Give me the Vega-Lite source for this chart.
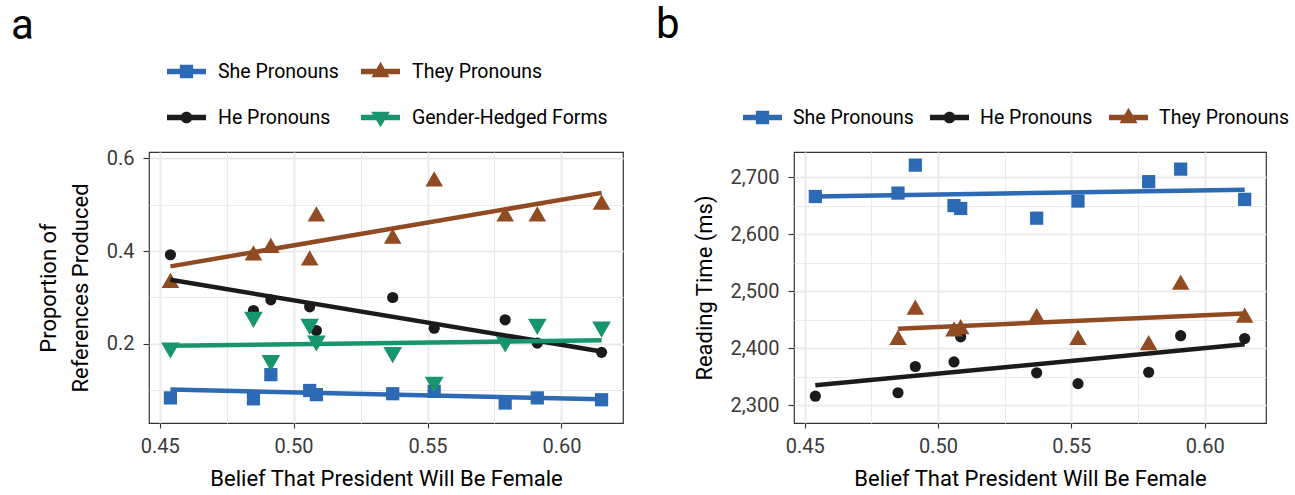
{
  "$schema": "https://vega.github.io/schema/vega-lite/v6.json",
  "background": "white",
  "padding": {"left": 10, "top": 3, "right": 5, "bottom": 5},
  "bounds": "flush",
  "spacing": 171,
  "resolve": {
    "scale": {"color": "independent", "shape": "independent"},
    "legend": {"color": "independent", "shape": "independent"}
  },
  "config": {
    "font": "Roboto",
    "view": {"stroke": "#333333", "strokeWidth": 1.2},
    "axis": {
      "domain": false,
      "gridColor": "#EBEBEB",
      "tickColor": "#333333",
      "tickWidth": 1.1,
      "labelColor": "#3A3A3A",
      "labelFont": "Roboto",
      "labelFontSize": 20,
      "titleFont": "Roboto",
      "titleFontSize": 22,
      "titleFontWeight": "normal",
      "titleColor": "#000000"
    },
    "title": {"font": "Roboto", "fontSize": 42, "fontWeight": "normal", "color": "#000000", "anchor": "start", "frame": "group"}
  },
  "datasets": {
    "a_points": [
      {"belief": 0.454, "proportion": 0.084, "series": "She Pronouns"},
      {"belief": 0.485, "proportion": 0.082, "series": "She Pronouns"},
      {"belief": 0.4915, "proportion": 0.134, "series": "She Pronouns"},
      {"belief": 0.506, "proportion": 0.100, "series": "She Pronouns"},
      {"belief": 0.5085, "proportion": 0.091, "series": "She Pronouns"},
      {"belief": 0.537, "proportion": 0.093, "series": "She Pronouns"},
      {"belief": 0.5525, "proportion": 0.098, "series": "She Pronouns"},
      {"belief": 0.579, "proportion": 0.073, "series": "She Pronouns"},
      {"belief": 0.591, "proportion": 0.084, "series": "She Pronouns"},
      {"belief": 0.615, "proportion": 0.080, "series": "She Pronouns"},
      {"belief": 0.454, "proportion": 0.337, "series": "They Pronouns"},
      {"belief": 0.485, "proportion": 0.396, "series": "They Pronouns"},
      {"belief": 0.4915, "proportion": 0.412, "series": "They Pronouns"},
      {"belief": 0.506, "proportion": 0.385, "series": "They Pronouns"},
      {"belief": 0.5085, "proportion": 0.480, "series": "They Pronouns"},
      {"belief": 0.537, "proportion": 0.432, "series": "They Pronouns"},
      {"belief": 0.5525, "proportion": 0.555, "series": "They Pronouns"},
      {"belief": 0.579, "proportion": 0.480, "series": "They Pronouns"},
      {"belief": 0.591, "proportion": 0.480, "series": "They Pronouns"},
      {"belief": 0.615, "proportion": 0.505, "series": "They Pronouns"},
      {"belief": 0.454, "proportion": 0.392, "series": "He Pronouns"},
      {"belief": 0.485, "proportion": 0.272, "series": "He Pronouns"},
      {"belief": 0.4915, "proportion": 0.295, "series": "He Pronouns"},
      {"belief": 0.506, "proportion": 0.280, "series": "He Pronouns"},
      {"belief": 0.5085, "proportion": 0.229, "series": "He Pronouns"},
      {"belief": 0.537, "proportion": 0.300, "series": "He Pronouns"},
      {"belief": 0.5525, "proportion": 0.234, "series": "He Pronouns"},
      {"belief": 0.579, "proportion": 0.252, "series": "He Pronouns"},
      {"belief": 0.591, "proportion": 0.202, "series": "He Pronouns"},
      {"belief": 0.615, "proportion": 0.182, "series": "He Pronouns"},
      {"belief": 0.454, "proportion": 0.186, "series": "Gender-Hedged Forms"},
      {"belief": 0.485, "proportion": 0.252, "series": "Gender-Hedged Forms"},
      {"belief": 0.4915, "proportion": 0.159, "series": "Gender-Hedged Forms"},
      {"belief": 0.506, "proportion": 0.237, "series": "Gender-Hedged Forms"},
      {"belief": 0.5085, "proportion": 0.201, "series": "Gender-Hedged Forms"},
      {"belief": 0.537, "proportion": 0.176, "series": "Gender-Hedged Forms"},
      {"belief": 0.5525, "proportion": 0.112, "series": "Gender-Hedged Forms"},
      {"belief": 0.579, "proportion": 0.199, "series": "Gender-Hedged Forms"},
      {"belief": 0.591, "proportion": 0.237, "series": "Gender-Hedged Forms"},
      {"belief": 0.615, "proportion": 0.231, "series": "Gender-Hedged Forms"}
    ],
    "a_fits": [
      {"belief": 0.454, "proportion": 0.102, "series": "She Pronouns"},
      {"belief": 0.615, "proportion": 0.081, "series": "She Pronouns"},
      {"belief": 0.454, "proportion": 0.367, "series": "They Pronouns"},
      {"belief": 0.615, "proportion": 0.525, "series": "They Pronouns"},
      {"belief": 0.454, "proportion": 0.338, "series": "He Pronouns"},
      {"belief": 0.615, "proportion": 0.184, "series": "He Pronouns"},
      {"belief": 0.454, "proportion": 0.196, "series": "Gender-Hedged Forms"},
      {"belief": 0.615, "proportion": 0.208, "series": "Gender-Hedged Forms"}
    ],
    "b_points": [
      {"belief": 0.454, "rt": 2666, "series": "She Pronouns"},
      {"belief": 0.485, "rt": 2672, "series": "She Pronouns"},
      {"belief": 0.4915, "rt": 2721, "series": "She Pronouns"},
      {"belief": 0.506, "rt": 2650, "series": "She Pronouns"},
      {"belief": 0.5085, "rt": 2645, "series": "She Pronouns"},
      {"belief": 0.537, "rt": 2628, "series": "She Pronouns"},
      {"belief": 0.5525, "rt": 2658, "series": "She Pronouns"},
      {"belief": 0.579, "rt": 2692, "series": "She Pronouns"},
      {"belief": 0.591, "rt": 2714, "series": "She Pronouns"},
      {"belief": 0.615, "rt": 2661, "series": "She Pronouns"},
      {"belief": 0.454, "rt": 2316, "series": "He Pronouns"},
      {"belief": 0.485, "rt": 2322, "series": "He Pronouns"},
      {"belief": 0.4915, "rt": 2368, "series": "He Pronouns"},
      {"belief": 0.506, "rt": 2376, "series": "He Pronouns"},
      {"belief": 0.5085, "rt": 2420, "series": "He Pronouns"},
      {"belief": 0.537, "rt": 2357, "series": "He Pronouns"},
      {"belief": 0.5525, "rt": 2338, "series": "He Pronouns"},
      {"belief": 0.579, "rt": 2358, "series": "He Pronouns"},
      {"belief": 0.591, "rt": 2422, "series": "He Pronouns"},
      {"belief": 0.615, "rt": 2417, "series": "He Pronouns"},
      {"belief": 0.485, "rt": 2419, "series": "They Pronouns"},
      {"belief": 0.4915, "rt": 2472, "series": "They Pronouns"},
      {"belief": 0.506, "rt": 2434, "series": "They Pronouns"},
      {"belief": 0.5085, "rt": 2438, "series": "They Pronouns"},
      {"belief": 0.537, "rt": 2457, "series": "They Pronouns"},
      {"belief": 0.5525, "rt": 2419, "series": "They Pronouns"},
      {"belief": 0.579, "rt": 2410, "series": "They Pronouns"},
      {"belief": 0.591, "rt": 2516, "series": "They Pronouns"},
      {"belief": 0.615, "rt": 2458, "series": "They Pronouns"}
    ],
    "b_fits": [
      {"belief": 0.454, "rt": 2666, "series": "She Pronouns"},
      {"belief": 0.615, "rt": 2678, "series": "She Pronouns"},
      {"belief": 0.454, "rt": 2335, "series": "He Pronouns"},
      {"belief": 0.615, "rt": 2407, "series": "He Pronouns"},
      {"belief": 0.485, "rt": 2434, "series": "They Pronouns"},
      {"belief": 0.615, "rt": 2461, "series": "They Pronouns"}
    ]
  },
  "hconcat": [
    {
      "width": 474,
      "height": 271,
      "title": {"text": "a", "dx": -138, "dy": 0},
      "encoding": {
        "x": {
          "field": "belief", "type": "quantitative",
          "scale": {"domain": [0.446, 0.623], "nice": false, "zero": false},
          "axis": {
            "title": "Belief That President Will Be Female",
            "values": [0.45, 0.475, 0.5, 0.525, 0.55, 0.575, 0.6],
            "labelExpr": "abs(datum.value*20 - round(datum.value*20)) > 0.01 ? '' : format(datum.value, '.2f')",
            "tickOpacity": {"condition": {"test": "abs(datum.value*20 - round(datum.value*20)) > 0.01", "value": 0}, "value": 1},
            "gridWidth": {"condition": {"test": "abs(datum.value*20 - round(datum.value*20)) > 0.01", "value": 1}, "value": 2},
            "tickSize": 5, "labelPadding": 8, "titlePadding": 12
          }
        },
        "y": {
          "field": "proportion", "type": "quantitative",
          "scale": {"domain": [0.03, 0.613], "nice": false, "zero": false},
          "axis": {
            "title": ["Proportion of", "References Produced"],
            "titleLineHeight": 32,
            "values": [0.1, 0.2, 0.3, 0.4, 0.5, 0.6],
            "labelExpr": "abs(datum.value*5 - round(datum.value*5)) > 0.01 ? '' : format(datum.value, '.1f')",
            "tickOpacity": {"condition": {"test": "abs(datum.value*5 - round(datum.value*5)) > 0.01", "value": 0}, "value": 1},
            "gridWidth": {"condition": {"test": "abs(datum.value*5 - round(datum.value*5)) > 0.01", "value": 1}, "value": 2},
            "tickSize": 6, "labelPadding": 9, "titlePadding": 14
          }
        }
      },
      "layer": [
        {
          "data": {"name": "a_points"},
          "mark": {"type": "point", "filled": true, "opacity": 1, "strokeWidth": 0, "size": 0},
          "encoding": {
            "color": {
              "field": "series", "type": "nominal",
              "scale": {"domain": ["She Pronouns", "They Pronouns", "He Pronouns", "Gender-Hedged Forms"], "range": ["#2C6AB5", "#914B22", "#1B1B1B", "#18946E"]},
              "legend": {
                "title": null, "orient": "none", "legendX": 18, "legendY": -100,
                "direction": "horizontal", "columns": 2, "padding": 0,
                "labelFont": "Roboto", "labelFontSize": 19.5, "labelColor": "#000000", "labelLimit": 400,
                "symbolSize": 1521, "symbolStrokeWidth": 0, "labelOffset": 12,
                "columnPadding": 22, "rowPadding": 17,
                "encode": {"symbols": {"size": {"value": 1521}}}
              }
            },
            "shape": {
              "field": "series", "type": "nominal",
              "scale": {
                "domain": ["She Pronouns", "They Pronouns", "He Pronouns", "Gender-Hedged Forms"],
                "range": [
                  "M-1,-0.14H1V0.14H-1Z M-0.34,-0.34H0.34V0.34H-0.34Z",
                  "M-1,-0.14H1V0.14H-1Z M0,-0.5L0.46,0.3H-0.46Z",
                  "M-1,-0.14H1V0.14H-1Z M-0.3,0A0.3,0.3 0 1 1 0.3,0A0.3,0.3 0 1 1 -0.3,0Z",
                  "M-1,-0.14H1V0.14H-1Z M0,0.5L-0.48,-0.3H0.48Z"
                ]
              },
              "legend": null
            }
          }
        },
        {
          "data": {"name": "a_points"},
          "transform": [{"filter": "datum.series === 'She Pronouns'"}],
          "mark": {"type": "point", "filled": true, "opacity": 1, "strokeWidth": 0, "shape": "square", "size": 175},
          "encoding": {"color": {"field": "series", "type": "nominal", "legend": null}}
        },
        {
          "data": {"name": "a_points"},
          "transform": [{"filter": "datum.series === 'They Pronouns'"}],
          "mark": {"type": "point", "filled": true, "opacity": 1, "strokeWidth": 0, "shape": "triangle-up", "size": 310},
          "encoding": {"color": {"field": "series", "type": "nominal", "legend": null}}
        },
        {
          "data": {"name": "a_points"},
          "transform": [{"filter": "datum.series === 'He Pronouns'"}],
          "mark": {"type": "point", "filled": true, "opacity": 1, "strokeWidth": 0, "shape": "circle", "size": 125},
          "encoding": {"color": {"field": "series", "type": "nominal", "legend": null}}
        },
        {
          "data": {"name": "a_points"},
          "transform": [{"filter": "datum.series === 'Gender-Hedged Forms'"}],
          "mark": {"type": "point", "filled": true, "opacity": 1, "strokeWidth": 0, "shape": "triangle-down", "size": 350},
          "encoding": {"color": {"field": "series", "type": "nominal", "legend": null}}
        },
        {
          "data": {"name": "a_fits"},
          "mark": {"type": "line", "strokeWidth": 4.5, "strokeCap": "butt"},
          "encoding": {"color": {"field": "series", "type": "nominal", "legend": null}}
        }
      ]
    },
    {
      "width": 472,
      "height": 271,
      "title": {"text": "b", "dx": -138, "dy": -47},
      "encoding": {
        "x": {
          "field": "belief", "type": "quantitative",
          "scale": {"domain": [0.446, 0.623], "nice": false, "zero": false},
          "axis": {
            "title": "Belief That President Will Be Female",
            "values": [0.45, 0.475, 0.5, 0.525, 0.55, 0.575, 0.6],
            "labelExpr": "abs(datum.value*20 - round(datum.value*20)) > 0.01 ? '' : format(datum.value, '.2f')",
            "tickOpacity": {"condition": {"test": "abs(datum.value*20 - round(datum.value*20)) > 0.01", "value": 0}, "value": 1},
            "gridWidth": {"condition": {"test": "abs(datum.value*20 - round(datum.value*20)) > 0.01", "value": 1}, "value": 2},
            "tickSize": 5, "labelPadding": 8, "titlePadding": 12
          }
        },
        "y": {
          "field": "rt", "type": "quantitative",
          "scale": {"domain": [2269, 2744], "nice": false, "zero": false},
          "axis": {
            "title": "Reading Time (ms)",
            "values": [2300, 2350, 2400, 2450, 2500, 2550, 2600, 2650, 2700],
            "labelExpr": "datum.value % 100 != 0 ? '' : format(datum.value, ',')",
            "tickOpacity": {"condition": {"test": "datum.value % 100 != 0", "value": 0}, "value": 1},
            "gridWidth": {"condition": {"test": "datum.value % 100 != 0", "value": 1}, "value": 2},
            "tickSize": 6, "labelPadding": 9, "titlePadding": 14
          }
        }
      },
      "layer": [
        {
          "data": {"name": "b_points"},
          "mark": {"type": "point", "filled": true, "opacity": 1, "strokeWidth": 0, "size": 0},
          "encoding": {
            "color": {
              "field": "series", "type": "nominal",
              "scale": {"domain": ["She Pronouns", "He Pronouns", "They Pronouns"], "range": ["#2C6AB5", "#1B1B1B", "#914B22"]},
              "legend": {
                "title": null, "orient": "none", "legendX": -51, "legendY": -54,
                "direction": "horizontal", "padding": 0,
                "labelFont": "Roboto", "labelFontSize": 19.5, "labelColor": "#000000", "labelLimit": 400,
                "symbolSize": 1521, "symbolStrokeWidth": 0, "labelOffset": 11,
                "columnPadding": 16,
                "encode": {"symbols": {"size": {"value": 1521}}}
              }
            },
            "shape": {
              "field": "series", "type": "nominal",
              "scale": {
                "domain": ["She Pronouns", "He Pronouns", "They Pronouns"],
                "range": [
                  "M-1,-0.14H1V0.14H-1Z M-0.34,-0.34H0.34V0.34H-0.34Z",
                  "M-1,-0.14H1V0.14H-1Z M-0.3,0A0.3,0.3 0 1 1 0.3,0A0.3,0.3 0 1 1 -0.3,0Z",
                  "M-1,-0.14H1V0.14H-1Z M0,-0.5L0.46,0.3H-0.46Z"
                ]
              },
              "legend": null
            }
          }
        },
        {
          "data": {"name": "b_points"},
          "transform": [{"filter": "datum.series === 'She Pronouns'"}],
          "mark": {"type": "point", "filled": true, "opacity": 1, "strokeWidth": 0, "shape": "square", "size": 175},
          "encoding": {"color": {"field": "series", "type": "nominal", "legend": null}}
        },
        {
          "data": {"name": "b_points"},
          "transform": [{"filter": "datum.series === 'He Pronouns'"}],
          "mark": {"type": "point", "filled": true, "opacity": 1, "strokeWidth": 0, "shape": "circle", "size": 125},
          "encoding": {"color": {"field": "series", "type": "nominal", "legend": null}}
        },
        {
          "data": {"name": "b_points"},
          "transform": [{"filter": "datum.series === 'They Pronouns'"}],
          "mark": {"type": "point", "filled": true, "opacity": 1, "strokeWidth": 0, "shape": "triangle-up", "size": 310},
          "encoding": {"color": {"field": "series", "type": "nominal", "legend": null}}
        },
        {
          "data": {"name": "b_fits"},
          "mark": {"type": "line", "strokeWidth": 4.5, "strokeCap": "butt"},
          "encoding": {"color": {"field": "series", "type": "nominal", "legend": null}}
        }
      ]
    }
  ]
}
